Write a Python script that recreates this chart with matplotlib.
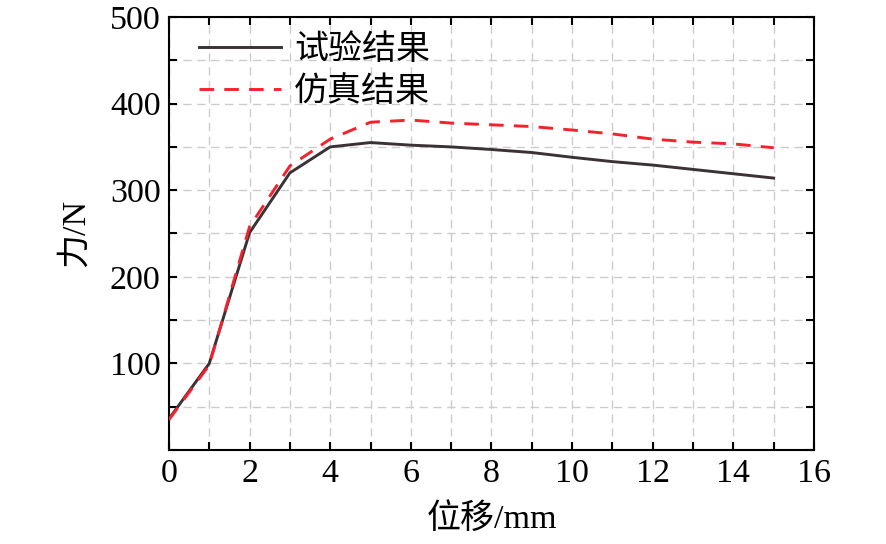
import matplotlib
matplotlib.use("Agg")
import matplotlib.pyplot as plt
from matplotlib.ticker import MultipleLocator

plt.rcParams['font.family'] = ['Liberation Serif', 'Noto Sans CJK SC']
plt.rcParams['mathtext.fontset'] = 'stix'

x_disp = [0, 1, 2, 3, 4, 5, 6, 7, 8, 9, 10, 11, 12, 13, 14, 15]
force_test = [36, 100, 251, 320, 350, 355, 352, 350, 347, 343.5, 338, 333, 329, 324, 319, 314]
force_sim = [35, 98, 258, 328, 359, 378.5, 381, 377.5, 375.5, 373.5, 369.5, 365, 359, 355.5, 353.5, 349]

labels = ['试验结果', '仿真结果']
x_label = '位移/mm'
y_label = '力/N'

fig = plt.figure(figsize=(8.86, 5.44), dpi=100)
ax = fig.add_axes([0.1907, 0.1728, 0.9187 - 0.1907, 0.96875 - 0.1728])

ax.plot(x_disp, force_test, color='#3a3236', lw=2.1, label=labels[0], zorder=3)
ax.plot(x_disp, force_sim, color='#f5222d', lw=2.1, ls=(0, (5, 3.5)), label=labels[1], zorder=4)

ax.set_xlim(0, 16)
ax.set_ylim(0, 500)
ax.xaxis.set_major_locator(MultipleLocator(2))
ax.xaxis.set_minor_locator(MultipleLocator(1))
ax.set_yticks([100, 200, 300, 400, 500])
ax.yaxis.set_minor_locator(MultipleLocator(50))

ax.grid(True, which='both', color='#cccccc', ls=(0, (6, 4)), lw=1.0, zorder=0)
ax.tick_params(which='both', direction='in', top=True, right=True, length=6, width=1.5,
               labelsize=24.5, pad=6)
for s in ax.spines.values():
    s.set_linewidth(1.5)

ax.set_xlabel(x_label, fontsize=24.5, labelpad=10)
ax.set_ylabel(y_label, fontsize=24.5, labelpad=14)

ax.legend(loc='upper left', frameon=False, fontsize=24.5, handlelength=2.4,
          handletextpad=0.4, labelspacing=0.3, borderaxespad=0.1,
          bbox_to_anchor=(0.02, 1.0))

fig.savefig('out.png', dpi=100)
